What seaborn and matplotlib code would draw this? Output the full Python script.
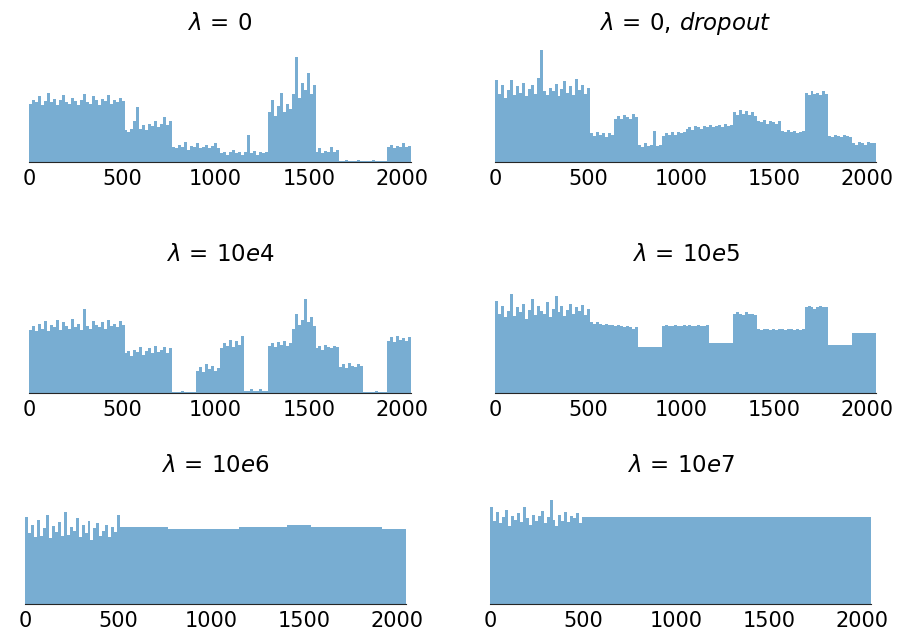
import pandas as pd
import seaborn as sns
import matplotlib.pyplot as plt

bin_edges = list(range(0, 2049, 16))
bin_centers = [e + 8 for e in bin_edges[:-1]]
x_ticks = [0, 500, 1000, 1500, 2000]

titles = [r"$\lambda\,=\,0$", r"$\lambda\,=\,0,\,dropout$",
          r"$\lambda\,=\,10e4$", r"$\lambda\,=\,10e5$",
          r"$\lambda\,=\,10e6$", r"$\lambda\,=\,10e7$"]

lam_0 = [
    47, 50, 48, 53, 46, 49, 56, 48, 51, 46, 50, 54, 48, 47, 52, 49,
    46, 50, 55, 48, 47, 53, 50, 46, 51, 49, 54, 47, 50, 48, 52, 49,
    26, 24, 27, 33, 44, 27, 30, 26, 31, 29, 33, 28, 31, 36, 30, 33,
    12, 11, 14, 12, 16, 10, 13, 12, 15, 11, 12, 14, 11, 13, 15, 11,
    7, 8, 6, 8, 10, 7, 8, 6, 8, 22, 7, 9, 6, 8, 7, 8,
    40, 50, 37, 45, 56, 40, 47, 43, 55, 85, 52, 64, 58, 72, 55, 62,
    8, 11, 7, 9, 8, 12, 8, 10, 1, 1, 2, 1, 1, 1, 2, 1,
    1, 1, 1, 2, 1, 1, 1, 1, 12, 14, 11, 13, 12, 15, 12, 13,
]

lam_0_dropout = [
    66, 55, 62, 52, 58, 66, 54, 61, 56, 64, 53, 59, 62, 55, 68, 90,
    57, 54, 60, 57, 63, 53, 59, 65, 56, 61, 54, 67, 58, 62, 55, 60,
    23, 21, 24, 22, 23, 20, 23, 22, 35, 37, 35, 38, 36, 35, 39, 36,
    14, 12, 15, 13, 14, 25, 13, 14, 21, 23, 22, 24, 22, 24, 23, 24,
    27, 28, 26, 29, 28, 27, 29, 28, 30, 28, 29, 30, 28, 31, 29, 30,
    40, 38, 42, 39, 41, 38, 40, 37, 33, 32, 34, 31, 33, 32, 31, 33,
    25, 24, 26, 24, 25, 23, 24, 25, 56, 54, 57, 55, 56, 54, 57, 55,
    21, 20, 22, 21, 20, 22, 21, 20, 15, 14, 16, 15, 14, 16, 15, 15,
]

lam_10e4 = [
    51, 54, 50, 56, 52, 58, 50, 55, 53, 59, 51, 57, 54, 52, 60, 53,
    56, 51, 68, 54, 52, 58, 55, 53, 57, 52, 59, 54, 56, 53, 58, 55,
    32, 34, 30, 35, 33, 37, 31, 34, 36, 32, 38, 33, 35, 37, 32, 36,
    1, 1, 1, 2, 1, 1, 1, 1, 18, 21, 17, 23, 19, 22, 18, 20,
    36, 40, 38, 43, 37, 42, 39, 46, 2, 2, 3, 2, 2, 3, 2, 2,
    38, 40, 37, 41, 39, 42, 38, 40, 52, 64, 55, 59, 76, 57, 61, 54,
    36, 38, 35, 39, 37, 36, 38, 37, 21, 23, 20, 24, 22, 21, 23, 22,
    1, 1, 1, 1, 2, 1, 1, 1, 42, 45, 41, 46, 43, 44, 42, 45,
]

lam_10e5 = [
    74, 64, 70, 61, 66, 80, 62, 69, 65, 72, 60, 67, 76, 63, 70, 66,
    64, 73, 61, 68, 78, 65, 70, 62, 67, 72, 64, 69, 66, 71, 63, 68,
    57, 56, 57, 56, 55, 56, 55, 55, 54, 55, 54, 53, 54, 53, 52, 53,
    37, 37, 37, 37, 37, 37, 37, 37, 54, 55, 54, 54, 55, 54, 54, 55,
    54, 55, 54, 54, 55, 54, 54, 55, 40, 40, 40, 40, 40, 40, 40, 40,
    64, 65, 64, 63, 65, 64, 64, 63, 52, 51, 52, 52, 51, 52, 51, 52,
    52, 51, 52, 52, 51, 52, 51, 52, 69, 70, 69, 68, 69, 70, 69, 69,
    39, 39, 39, 39, 39, 39, 39, 39, 48, 48, 48, 48, 48, 48, 48, 48,
]

lam_10e6 = [
    70, 57, 64, 54, 68, 55, 61, 72, 53, 63, 58, 66, 55, 74, 56, 62,
    59, 69, 54, 64, 57, 67, 52, 61, 65, 55, 59, 64, 54, 62, 58, 72,
    62.4, 62.4, 62.4, 62.4, 62.4, 62.4, 62.4, 62.4, 62.4, 62.4, 62.4, 62.4, 62.4, 62.4, 62.4, 62.4,
    60.8, 60.8, 60.8, 60.8, 60.8, 60.8, 60.8, 60.8, 60.8, 60.8, 60.8, 60.8, 60.8, 60.8, 60.8, 60.8,
    60.8, 60.8, 60.8, 60.8, 60.8, 60.8, 60.8, 60.8, 61.9, 61.9, 61.9, 61.9, 61.9, 61.9, 61.9, 61.9,
    61.9, 61.9, 61.9, 61.9, 61.9, 61.9, 61.9, 61.9, 63.5, 63.5, 63.5, 63.5, 63.5, 63.5, 63.5, 63.5,
    62.2, 62.2, 62.2, 62.2, 62.2, 62.2, 62.2, 62.2, 62.2, 62.2, 62.2, 62.2, 62.2, 62.2, 62.2, 62.2,
    61.9, 61.9, 61.9, 61.9, 61.9, 61.9, 61.9, 61.9, 60.8, 60.8, 60.8, 60.8, 60.8, 60.8, 60.8, 60.8,
]

lam_10e7 = [
    78, 67, 74, 65, 70, 76, 63, 71, 68, 73, 66, 78, 69, 64, 72, 67,
    71, 75, 65, 70, 84, 68, 63, 72, 67, 74, 66, 71, 69, 73, 65, 70,
    70.3, 70.3, 70.3, 70.3, 70.3, 70.3, 70.3, 70.3, 70.3, 70.3, 70.3, 70.3, 70.3, 70.3, 70.3, 70.3,
    70.3, 70.3, 70.3, 70.3, 70.3, 70.3, 70.3, 70.3, 70.3, 70.3, 70.3, 70.3, 70.3, 70.3, 70.3, 70.3,
    70.3, 70.3, 70.3, 70.3, 70.3, 70.3, 70.3, 70.3, 70.3, 70.3, 70.3, 70.3, 70.3, 70.3, 70.3, 70.3,
    70.3, 70.3, 70.3, 70.3, 70.3, 70.3, 70.3, 70.3, 70.3, 70.3, 70.3, 70.3, 70.3, 70.3, 70.3, 70.3,
    70.3, 70.3, 70.3, 70.3, 70.3, 70.3, 70.3, 70.3, 70.3, 70.3, 70.3, 70.3, 70.3, 70.3, 70.3, 70.3,
    70.3, 70.3, 70.3, 70.3, 70.3, 70.3, 70.3, 70.3, 70.3, 70.3, 70.3, 70.3, 70.3, 70.3, 70.3, 70.3,
]

panels = [lam_0, lam_0_dropout, lam_10e4, lam_10e5, lam_10e6, lam_10e7]

sns.set_style("white")
plt.rcParams['font.family'] = ['DejaVu Sans']

W, H = 909, 632
fig = plt.figure(figsize=(W / 100, H / 100), dpi=100)

# pixel boxes: (left, axis line y, right)
boxes = [(29, 162, 411), (495, 162, 876),
         (29, 393, 411), (495, 393, 876),
         (25, 604, 406), (490, 604, 871)]
ax_h = 124

for vals, title, (x0, yb, x1) in zip(panels, titles, boxes):
    ax = fig.add_axes([x0 / W, 1 - yb / H, (x1 - x0) / W, ax_h / H])
    df = pd.DataFrame({"unit": bin_centers, "value": vals})
    sns.histplot(data=df, x="unit", weights="value", bins=bin_edges,
                 color="#1f77b4", alpha=0.6, linewidth=0, ax=ax)
    ax.set_xlim(0, 2048)
    ax.set_ylim(0, 100)
    ax.set_xticks(x_ticks)
    ax.set_yticks([])
    ax.set_xlabel("")
    ax.set_ylabel("")
    ax.tick_params(axis="x", length=0, pad=5, labelsize=15, labelcolor="black")
    ax.set_title(title, fontsize=16.5, pad=6, color="black")
    sns.despine(ax=ax, left=True)

fig.savefig("out.png", dpi=100)
